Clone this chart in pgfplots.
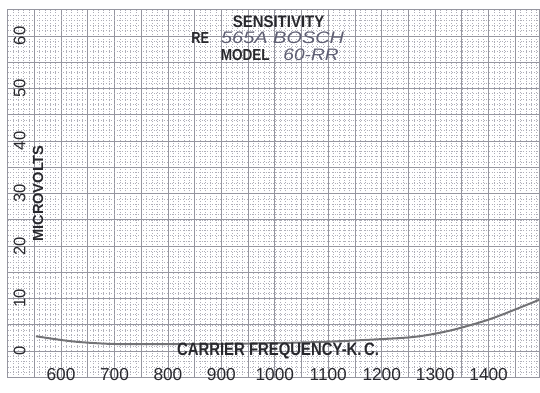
\documentclass[border={5.25pt 6pt 0pt 6.75pt}]{standalone}
\usepackage{pgfplots}
\pgfplotsset{compat=1.18}
\usepackage{fontspec}
\setmainfont{Liberation Sans}

\definecolor{paper}{RGB}{150,150,160}
\definecolor{dotgrid}{RGB}{175,175,185}
\definecolor{ink}{RGB}{40,40,45}
\definecolor{pencil}{RGB}{95,95,115}
\definecolor{trace}{RGB}{115,115,118}

\begin{document}
\begin{tikzpicture}
\begin{axis}[
  width=400pt, height=276.75pt, scale only axis,
  xmin=500, xmax=1495, ymin=-5, ymax=65,
  /pgf/number format/assume math mode=true,
  /pgf/number format/1000 sep={},
  axis line style={paper, line width=0.9pt},
  xtick={600,700,...,1400},
  ytick={0,10,...,60},
  minor xtick={510,520,...,1490},
  minor ytick={-4,-3,...,64},
  extra x ticks={550,650,...,1450},
  extra y ticks={5,15,...,55},
  extra x tick labels={}, extra y tick labels={},
  extra tick style={grid=major, major grid style={paper, line width=0.7pt}},
  grid=both,
  major grid style={paper, line width=0.5pt},
  minor grid style={dotgrid, dash pattern=on 0.7pt off 1.3pt, line width=0.45pt},
  major tick length=0pt, minor tick length=0pt,
  tick style={draw=none},
  xticklabel style={anchor=center, yshift=2.5pt, ink, font=\fontsize{13}{15}\selectfont},
  yticklabel style={xshift=9pt, rotate=90, anchor=center, ink, font=\fontsize{12.5}{14}\selectfont},
]
% sensitivity curve
\addplot[trace, line width=1.5pt, smooth, tension=0.5] coordinates {
  (553,2.85) (619,1.9) (680,1.45) (730,1.35) (837,1.35) (973,1.5)
  (1080,1.75) (1160,2.1) (1253,2.65) (1303,3.4) (1346,4.4) (1408,6.3) (1495,9.8)};

\node[ink, font=\fontsize{12.5}{14}\selectfont\bfseries, xscale=0.9] at (axis cs:1007,62.7) {SENSITIVITY};
\node[ink, anchor=east, font=\fontsize{12}{14}\selectfont\bfseries, xscale=0.8] at (axis cs:884,59.6) {RE};
\node[pencil, anchor=west, font=\fontsize{12.5}{14}\selectfont\itshape, xscale=1.2] at (axis cs:889,59.6) {565A BOSCH};
\node[ink, anchor=east, font=\fontsize{12}{14}\selectfont\bfseries, xscale=0.85] at (axis cs:998,56.4) {MODEL};
\node[pencil, anchor=west, font=\fontsize{12.5}{14}\selectfont\itshape, xscale=1.15] at (axis cs:1006,56.4) {60-RR};
\node[ink, font=\fontsize{13.5}{15}\selectfont\bfseries, xscale=0.83] at (axis cs:1006,0) {CARRIER FREQUENCY-K.\,C.};
\node[ink, rotate=90, font=\fontsize{11}{13}\selectfont\bfseries] at (axis cs:557,30) {MICROVOLTS};
\end{axis}
\end{tikzpicture}
\end{document}
